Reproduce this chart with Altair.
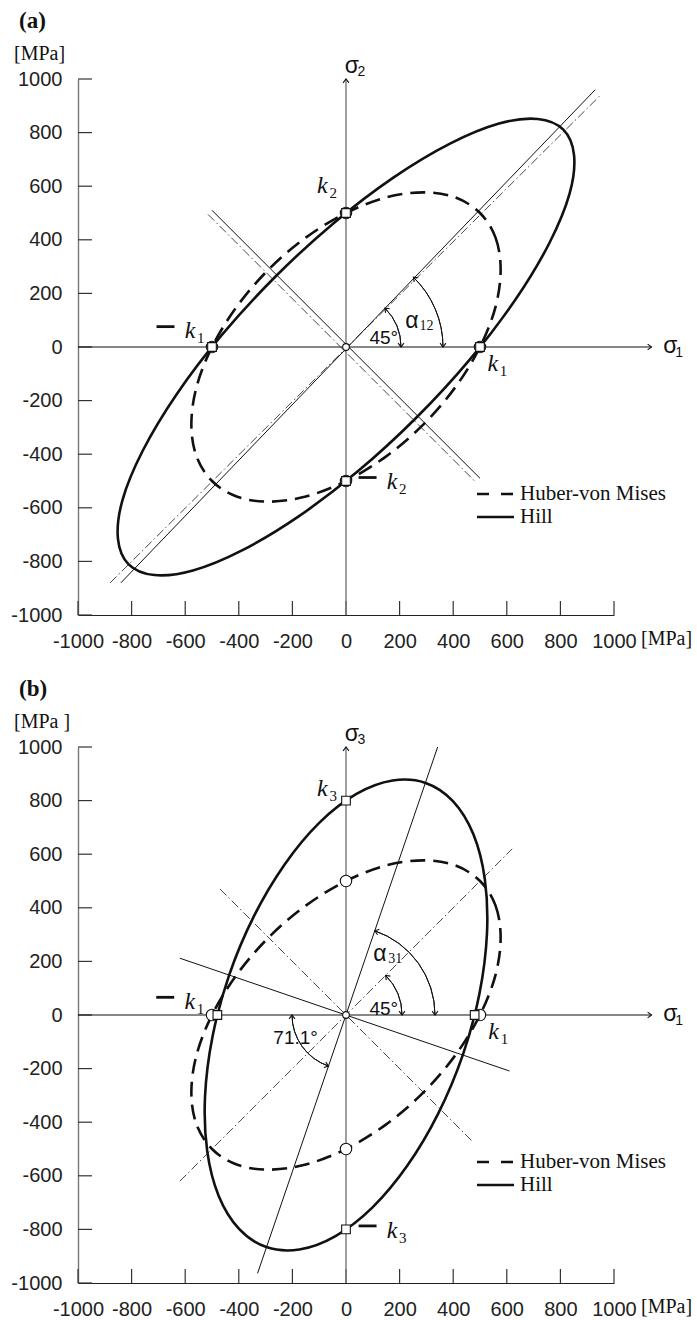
import math
import altair as alt
import pandas as pd

W = 536
H = 536
SANS = "Liberation Sans"
SERIF = "Liberation Serif"
INK = "#111111"
MPA_PER_PX = 2000.0 / W

tick_vals = [-1000, -800, -600, -400, -200, 0, 200, 400, 600, 800, 1000]

# Huber-von Mises ellipse (same in both panels) [MPa]
hvm_s1 = [500, 558, 577, 558, 500, 408, 289, 150, 0, -150, -289, -408,
          -500, -558, -577, -558, -500, -408, -289, -150, 0, 150, 289, 408]
hvm_s2 = [500, 408, 289, 150, 0, -150, -289, -408, -500, -558, -577, -558,
          -500, -408, -289, -150, 0, 150, 289, 408, 500, 558, 577, 558]

# Hill ellipse, panel (a), sigma1-sigma2 plane
hill_a_s1 = [811, 851, 834, 759, 633, 464, 263, 44, -178, -388, -571, -715,
             -811, -851, -834, -759, -633, -464, -263, -44, 178, 388, 571, 715]
hill_a_s2 = [811, 715, 571, 388, 178, -44, -263, -464, -633, -759, -834, -851,
             -811, -715, -571, -388, -178, 44, 263, 464, 633, 759, 834, 851]

# Hill ellipse, panel (b), sigma1-sigma3 plane
hill_b_s1 = [297, 399, 475, 518, 526, 498, 436, 344, 229, 99, -39, -174,
             -297, -399, -475, -518, -526, -498, -436, -344, -229, -99, 39, 174]
hill_b_s3 = [866, 798, 675, 507, 304, 80, -149, -368, -562, -718, -825, -875,
             -866, -798, -675, -507, -304, -80, 149, 368, 562, 718, 825, 875]

# straight guide lines [MPa]: x1, y1, x2, y2
a_solid_x1 = [-840, -500]; a_solid_y1 = [-880, 510]; a_solid_x2 = [930, 500]; a_solid_y2 = [960, -490]
a_dd_x1 = [-880, -515]; a_dd_y1 = [-880, 495]; a_dd_x2 = [950, 480]; a_dd_y2 = [940, -500]
b_solid_x1 = [-330, -620]; b_solid_y1 = [-964, 212]; b_solid_x2 = [342, 610]; b_solid_y2 = [1000, -209]
b_dd_x1 = [-620, -470]; b_dd_y1 = [-620, 470]; b_dd_x2 = [620, 475]; b_dd_y2 = [620, -475]

# characteristic points
a_circ_x = [500, -500, 0, 0]; a_circ_y = [0, 0, 500, -500]
a_sq_x = [500, -500, 0, 0]; a_sq_y = [0, 0, 500, -500]
b_circ_x = [500, -500, 0, 0]; b_circ_y = [0, 0, 500, -500]
b_sq_x = [480, -480, 0, 0]; b_sq_y = [0, 0, 800, -800]

xs = alt.Scale(domain=[-1000, 1000], nice=False, zero=False)
ys = alt.Scale(domain=[-1000, 1000], nice=False, zero=False)

LAB = "'' + datum.value"
AX = alt.Axis(values=tick_vals, title=None, ticks=False, grid=False,
              labelFont=SANS, labelFontSize=20, labelColor="#222",
              labelPadding=16, domainColor="#222", domainWidth=1.2,
              labelExpr=LAB, labelFlush=False, labelOverlap=False)
AY = alt.Axis(values=tick_vals, title=None, ticks=False, grid=False,
              labelFont=SANS, labelFontSize=20, labelColor="#222",
              labelPadding=16, domainColor="#777", domainWidth=1.4,
              labelExpr=LAB, labelFlush=False, labelOverlap=False)

CHEV = "M-1,-0.75L0,0L-1,0.75"


def XQ(f):
    return alt.X(f, type="quantitative", scale=xs, axis=AX)


def YQ(f):
    return alt.Y(f, type="quantitative", scale=ys, axis=AY)


def tick_layers():
    df = pd.DataFrame({"t": tick_vals})
    xt = alt.Chart(df).mark_rule(color="#333", strokeWidth=1.2).encode(
        x=XQ("t"), y=alt.value(H), y2=alt.value(H - 14))
    yt = alt.Chart(df).mark_rule(color="#333", strokeWidth=1.2).encode(
        y=YQ("t"), x=alt.value(0), x2=alt.value(14))
    return [xt, yt]


def ellipse(s1, s2, dashed):
    df = pd.DataFrame({"x": s1, "y": s2, "i": list(range(len(s1)))})
    if dashed:
        m = alt.Chart(df).mark_line(interpolate="cardinal-closed", color=INK, strokeWidth=2.6,
                                    strokeDash=[15, 8])
    else:
        m = alt.Chart(df).mark_line(interpolate="cardinal-closed", color=INK, strokeWidth=2.6)
    return m.encode(x=XQ("x"), y=YQ("y"), order=alt.Order("i:Q"))


def segs(x1, y1, x2, y2, dashdot, color=INK, width=1.0):
    df = pd.DataFrame({"x1": x1, "y1": y1, "x2": x2, "y2": y2})
    if dashdot:
        m = alt.Chart(df).mark_rule(color="#333", strokeWidth=0.9, strokeDash=[9, 3, 1.5, 3])
    else:
        m = alt.Chart(df).mark_rule(color=color, strokeWidth=width)
    return m.encode(x=XQ("x1"), y=YQ("y1"), x2=alt.X2("x2"), y2=alt.Y2("y2"))


def arrowheads(xv, yv, dirs, size=70):
    ang = [(-d) % 360 for d in dirs]
    df = pd.DataFrame({"x": xv, "y": yv, "a": ang})
    return alt.Chart(df).mark_point(shape=CHEV, filled=False, stroke=INK, strokeWidth=1.1,
                                    size=size, opacity=1).encode(
        x=XQ("x"), y=YQ("y"), angle=alt.Angle("a:Q", scale=None))


def arc(r_px, phi1, phi2):
    t1 = math.radians(90 - phi2)
    t2 = math.radians(90 - phi1)
    if t1 < 0:
        t1 += 2 * math.pi
        t2 += 2 * math.pi
    df = pd.DataFrame({"a": [0]})
    a = alt.Chart(df).mark_arc(radius=r_px, radius2=r_px, theta=t1, theta2=t2, filled=False,
                               stroke=INK, strokeWidth=1.0).encode(opacity=alt.value(1))
    R = r_px * MPA_PER_PX
    p1 = (R * math.cos(math.radians(phi1)), R * math.sin(math.radians(phi1)))
    p2 = (R * math.cos(math.radians(phi2)), R * math.sin(math.radians(phi2)))
    h = arrowheads([p1[0], p2[0]], [p1[1], p2[1]], [phi1 - 90, phi2 + 90], size=60)
    return [a, h]


def pts(xv, yv, shape, size, sw=1.1):
    df = pd.DataFrame({"x": xv, "y": yv})
    return alt.Chart(df).mark_point(shape=shape, filled=True, fill="white", stroke=INK,
                                    strokeWidth=sw, size=size, opacity=1).encode(x=XQ("x"), y=YQ("y"))


def dtext(s, x, y, size, font=SERIF, style="normal", weight="normal", align="center"):
    df = pd.DataFrame({"x": [x], "y": [y]})
    return alt.Chart(df).mark_text(text=s, font=font, fontSize=size, fontStyle=style,
                                   fontWeight=weight, align=align, baseline="middle",
                                   color=INK).encode(x=XQ("x"), y=YQ("y"))


def ptext(s, x, y, size, font=SERIF, weight="normal", align="left", baseline="middle"):
    df = pd.DataFrame({"a": [0]})
    return alt.Chart(df).mark_text(text=s, font=font, fontSize=size, fontWeight=weight,
                                   align=align, baseline=baseline, color=INK).encode(
        x=alt.value(x), y=alt.value(y))


def kx(sub, x, y, minus=False):
    out = []
    if minus:
        out.append(segs([x - 125], [y + 18], [x - 58], [y + 18], False, width=2.8))
    out.append(dtext("k", x, y, 24, style="italic"))
    out.append(dtext(sub, x + 40, y - 26, 15))
    return out


def legend():
    df = pd.DataFrame({"a": [0]})
    dash = alt.Chart(df).mark_rule(color=INK, strokeWidth=2.6, strokeDash=[12, 12]).encode(
        x=alt.value(399), x2=alt.value(436), y=alt.value(415), y2=alt.value(415))
    solid = alt.Chart(df).mark_rule(color=INK, strokeWidth=2.6).encode(
        x=alt.value(399), x2=alt.value(436), y=alt.value(438), y2=alt.value(438))
    return [dash, solid,
            ptext("Huber-von Mises", 442, 415, 21),
            ptext("Hill", 442, 438, 21)]


def axis_lines(vert_label):
    return [
        segs([-1000], [0], [1140], [0], False, color=INK, width=1.1),
        segs([0], [-1000], [0], [1000], False, color="#777", width=1.4),
        arrowheads([1140, 0], [0, 1000], [0, 90], size=60),
        dtext("\u03c3", 1210, 5, 23, font=SANS),
        dtext("1", 1243, -22, 14, font=SANS),
        dtext("\u03c3", 22, 1048, 23, font=SANS),
        dtext(vert_label, 57, 1026, 14, font=SANS),
    ]


def panel(tag, ytitle, hill_x, hill_y, sx1, sy1, sx2, sy2, dx1, dy1, dx2, dy2,
          circ_x, circ_y, sq_x, sq_y, vert_label, extra):
    layers = tick_layers()
    layers += axis_lines(vert_label)
    layers += [segs(dx1, dy1, dx2, dy2, True), segs(sx1, sy1, sx2, sy2, False)]
    layers += [ellipse(hvm_s1, hvm_s2, True), ellipse(hill_x, hill_y, False)]
    layers += extra
    layers += [pts(circ_x, circ_y, "circle", 130), pts(sq_x, sq_y, "square", 75),
               pts([0], [0], "circle", 45)]
    layers += legend()
    layers += [ptext(tag, -59, -58, 23, weight="bold"),
               ptext(ytitle, -64, -25, 20),
               ptext("[MPa]", 563, H + 14, 20, baseline="top")]
    return alt.layer(*layers).properties(width=W, height=H)


extra_a = []
extra_a += arc(55, 0, 45) + arc(97, 0, 46)
extra_a += [dtext("45\u00b0", 141, 34, 19, font=SANS),
            dtext("\u03b1", 246, 97, 23, font=SANS), dtext("12", 300, 80, 14)]
extra_a += kx("1", -582, 58, minus=True)
extra_a += kx("1", 548, -62)
extra_a += kx("2", -88, 600)
extra_a += kx("2", 172, -505, minus=True)

extra_b = []
extra_b += arc(56, 0, 45) + arc(89, 0, 71.1) + arc(54, 180, 251.1)
extra_b += [dtext("45\u00b0", 141, 24, 19, font=SANS),
            dtext("\u03b1", 126, 227, 23, font=SANS), dtext("31", 184, 208, 14),
            dtext("71.1\u00b0", -188, -84, 19, font=SANS)]
extra_b += kx("1", -583, 48, minus=True)
extra_b += kx("1", 551, -62)
extra_b += kx("3", -88, 845)
extra_b += kx("3", 172, -805, minus=True)

pa = panel("(a)", "[MPa]", hill_a_s1, hill_a_s2,
           a_solid_x1, a_solid_y1, a_solid_x2, a_solid_y2,
           a_dd_x1, a_dd_y1, a_dd_x2, a_dd_y2,
           a_circ_x, a_circ_y, a_sq_x, a_sq_y, "2", extra_a)
pb = panel("(b)", "[MPa ]", hill_b_s1, hill_b_s3,
           b_solid_x1, b_solid_y1, b_solid_x2, b_solid_y2,
           b_dd_x1, b_dd_y1, b_dd_x2, b_dd_y2,
           b_circ_x, b_circ_y, b_sq_x, b_sq_y, "3", extra_b)

chart = alt.vconcat(pa, pb, spacing=27).properties(
    padding={"left": 10, "top": 10, "right": 0, "bottom": 0}
).configure_view(stroke=None)

chart.save("out.html", embed_options={"renderer": "svg", "actions": False})
